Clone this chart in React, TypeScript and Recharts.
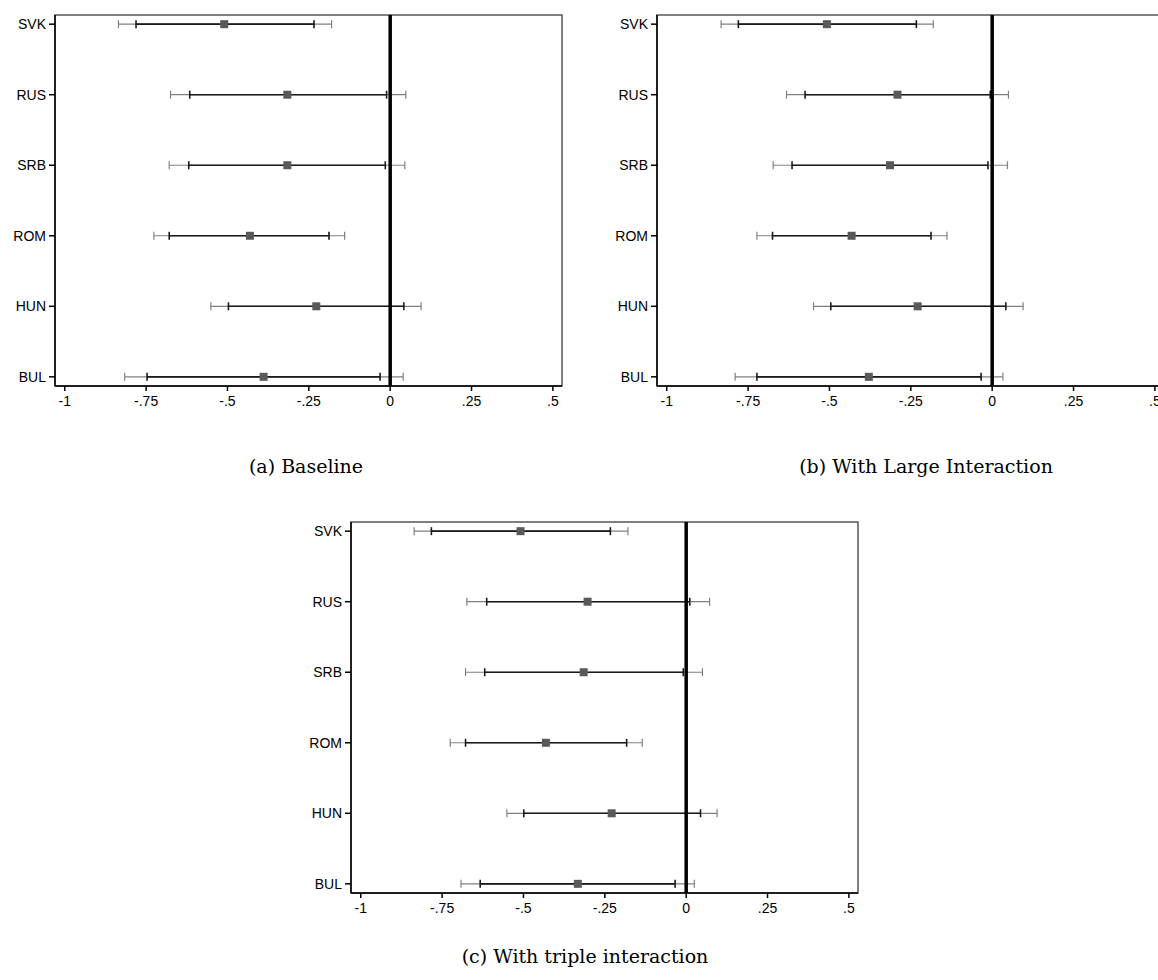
import {
  ScatterChart,
  Scatter,
  XAxis,
  YAxis,
  ErrorBar,
  ReferenceLine,
  ReferenceArea,
} from "recharts";

const COUNTRIES = ["SVK", "RUS", "SRB", "ROM", "HUN", "BUL"];
const X_TICKS = [-1, -0.75, -0.5, -0.25, 0, 0.25, 0.5];
const X_DOMAIN: [number, number] = [-1.03, 0.528];
const Y_DOMAIN: [number, number] = [-0.13, 5.13];

// (a) Baseline
const aCoef = [-0.51, -0.316, -0.316, -0.431, -0.227, -0.389];
const aLo90 = [-0.781, -0.616, -0.619, -0.679, -0.497, -0.747];
const aHi90 = [-0.234, -0.011, -0.015, -0.188, 0.042, -0.031];
const aLo95 = [-0.835, -0.675, -0.679, -0.726, -0.551, -0.816];
const aHi95 = [-0.18, 0.048, 0.045, -0.14, 0.095, 0.04];

// (b) With Large Interaction
const bCoef = [-0.508, -0.291, -0.314, -0.432, -0.229, -0.379];
const bLo90 = [-0.78, -0.575, -0.615, -0.675, -0.496, -0.723];
const bHi90 = [-0.233, -0.006, -0.013, -0.188, 0.042, -0.034];
const bLo95 = [-0.833, -0.632, -0.673, -0.723, -0.549, -0.79];
const bHi95 = [-0.181, 0.05, 0.047, -0.139, 0.095, 0.033];

// (c) With triple interaction
const cCoef = [-0.509, -0.303, -0.315, -0.431, -0.229, -0.333];
const cLo90 = [-0.783, -0.613, -0.619, -0.678, -0.499, -0.633];
const cHi90 = [-0.233, 0.011, -0.009, -0.183, 0.044, -0.034];
const cLo95 = [-0.836, -0.674, -0.678, -0.725, -0.551, -0.692];
const cHi95 = [-0.179, 0.072, 0.05, -0.135, 0.095, 0.025];

const FONT = "'Liberation Sans', Arial, sans-serif";
const tick = { fill: "#000", fontSize: 14, fontFamily: FONT };

const fmtX = (v: number) => {
  if (v === 0) return "0";
  const s = String(v);
  return s.replace("0.", ".");
};

type PanelProps = {
  coef: number[];
  lo90: number[];
  hi90: number[];
  lo95: number[];
  hi95: number[];
};

function Panel({ coef, lo90, hi90, lo95, hi95 }: PanelProps) {
  const rows = COUNTRIES.map((c, i) => ({
    name: c,
    pos: i,
    coef: coef[i],
    e90: [coef[i] - lo90[i], hi90[i] - coef[i]],
    e95: [coef[i] - lo95[i], hi95[i] - coef[i]],
  }));
  return (
    <ScatterChart width={572} height={406} margin={{ top: 5, right: 10, left: 0, bottom: 0 }}>
      <ReferenceArea
        x1={X_DOMAIN[0]}
        x2={X_DOMAIN[1]}
        y1={Y_DOMAIN[0]}
        y2={Y_DOMAIN[1]}
        fill="none"
        stroke="#555"
        strokeWidth={1.5}
        ifOverflow="visible"
      />
      <XAxis
        type="number"
        dataKey="coef"
        domain={X_DOMAIN}
        allowDataOverflow
        ticks={X_TICKS}
        interval={0}
        tickFormatter={fmtX}
        tick={tick}
        tickSize={5}
        tickMargin={5}
        height={30}
        stroke="#000"
        strokeWidth={1.5}
      />
      <YAxis
        type="number"
        dataKey="pos"
        domain={Y_DOMAIN}
        allowDataOverflow
        reversed
        ticks={[0, 1, 2, 3, 4, 5]}
        interval={0}
        tickFormatter={(i: number) => COUNTRIES[i]}
        tick={tick}
        tickSize={6}
        tickMargin={3}
        width={55}
        stroke="#000"
        strokeWidth={1.5}
      />
      <Scatter data={rows} shape="square" fill="#595959" isAnimationActive={false}>
        <ErrorBar dataKey="e95" direction="x" width={4} stroke="#808080" strokeWidth={1.2} isAnimationActive={false} />
        <ErrorBar dataKey="e90" direction="x" width={4} stroke="#1a1a1a" strokeWidth={1.6} isAnimationActive={false} />
      </Scatter>
      <ReferenceLine x={0} stroke="#000" strokeWidth={3.5} />
    </ScatterChart>
  );
}

const caption: React.CSSProperties = {
  position: "absolute",
  transform: "translateX(-50%)",
  whiteSpace: "nowrap",
  fontFamily: "'DejaVu Serif', serif",
  fontSize: 19,
  lineHeight: "20px",
  color: "#000",
};

export default function App() {
  return (
    <div style={{ position: "absolute", left: 0, top: 0, width: 1158, height: 980, overflow: "hidden", background: "#fff" }}>
      <div style={{ position: "absolute", left: 0, top: 10 }}>
        <Panel coef={aCoef} lo90={aLo90} hi90={aHi90} lo95={aLo95} hi95={aHi95} />
      </div>
      <div style={{ position: "absolute", left: 602, top: 10 }}>
        <Panel coef={bCoef} lo90={bLo90} hi90={bHi90} lo95={bLo95} hi95={bHi95} />
      </div>
      <div style={{ position: "absolute", left: 296, top: 517 }}>
        <Panel coef={cCoef} lo90={cLo90} hi90={cHi90} lo95={cLo95} hi95={cHi95} />
      </div>
      <div style={{ ...caption, left: 306, top: 456 }}>(a) Baseline</div>
      <div style={{ ...caption, left: 926, top: 456 }}>(b) With Large Interaction</div>
      <div style={{ ...caption, left: 585, top: 946 }}>(c) With triple interaction</div>
    </div>
  );
}
